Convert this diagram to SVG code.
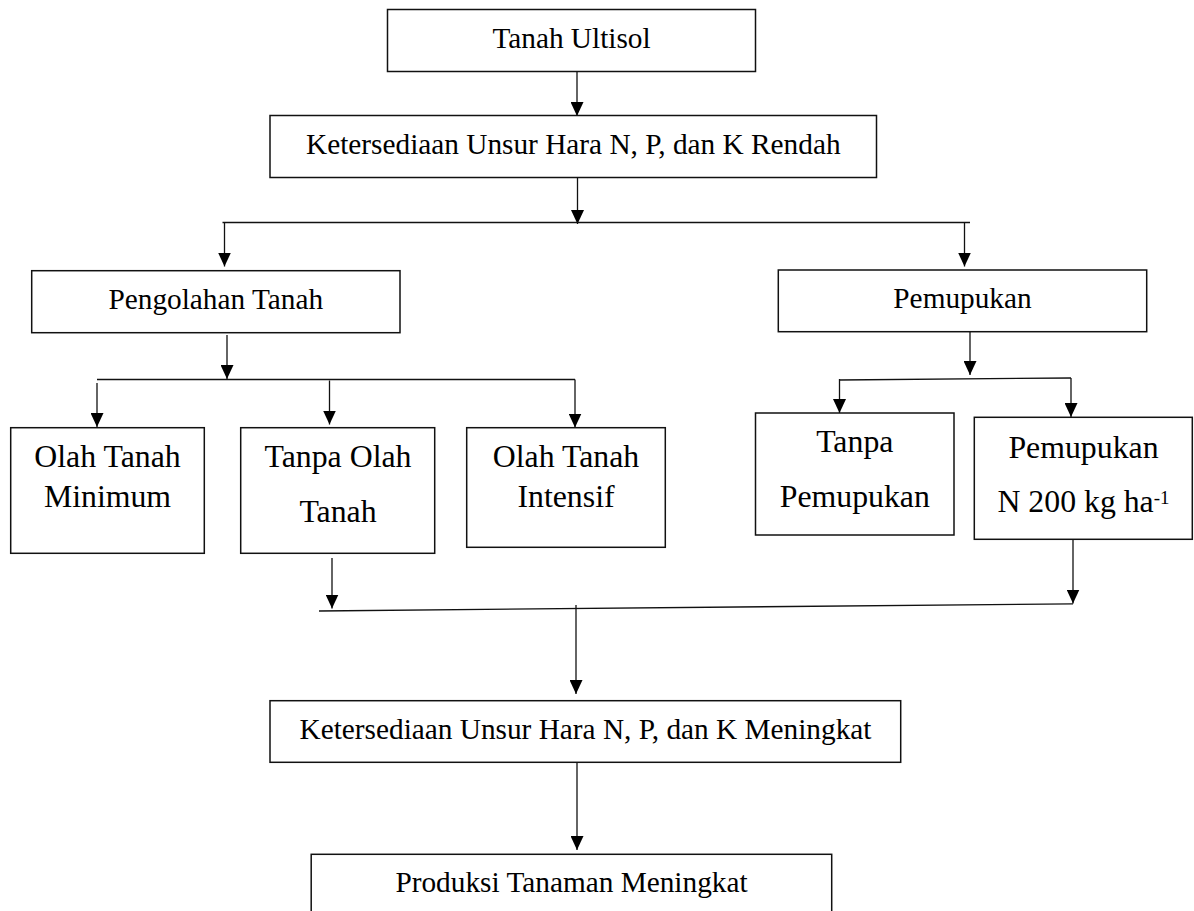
<svg xmlns="http://www.w3.org/2000/svg" width="1194" height="911" viewBox="0 0 1194 911">
<defs>
<style>
.box{fill:#fff;stroke:#111;stroke-width:1.5}
.t{font-family:"Liberation Serif","Times New Roman",serif;font-size:29.3px;fill:#000;text-anchor:middle}
.s{font-family:"Liberation Serif","Times New Roman",serif;font-size:31.8px;fill:#000;text-anchor:middle}
.c{fill:none;stroke:#111;stroke-width:1.3}
.a{marker-end:url(#arr)}
</style>
<marker id="arr" markerUnits="userSpaceOnUse" markerWidth="14" markerHeight="13" viewBox="0 0 14 13" refX="14" refY="6.5" orient="auto">
<path d="M0,0 L14,6.5 L0,13 Z" fill="#000"/>
</marker>
</defs>
<rect width="1194" height="911" fill="#fff"/>
<g id="connectors">
<line class="c a" x1="577" y1="72" x2="577" y2="116"/>
<line class="c a" x1="577.5" y1="177.5" x2="577.5" y2="224"/>
<line class="c" x1="222.5" y1="222.5" x2="970" y2="222.5"/>
<line class="c a" x1="224.5" y1="222.5" x2="224.5" y2="266.5"/>
<line class="c a" x1="964.5" y1="222.5" x2="964.5" y2="266.5"/>
<line class="c a" x1="227" y1="335" x2="227" y2="379"/>
<line class="c" x1="97" y1="379.5" x2="575" y2="379.5"/>
<line class="c a" x1="97" y1="383" x2="97" y2="427"/>
<line class="c a" x1="329.5" y1="380.5" x2="329.5" y2="424.5"/>
<line class="c a" x1="575" y1="379.5" x2="575" y2="427.5"/>
<line class="c a" x1="970" y1="331" x2="970" y2="375"/>
<line class="c" x1="839" y1="380" x2="1071" y2="378"/>
<line class="c a" x1="839.5" y1="379" x2="839.5" y2="413"/>
<line class="c a" x1="1071" y1="378" x2="1071" y2="417"/>
<line class="c a" x1="332" y1="558" x2="332" y2="608.5"/>
<line class="c a" x1="1073" y1="540" x2="1073" y2="603.5"/>
<line class="c" x1="319" y1="611" x2="1073" y2="603.8"/>
<line class="c a" x1="576" y1="605" x2="576" y2="694"/>
<line class="c a" x1="577" y1="761" x2="577" y2="850"/>
</g>
<g id="n1"><rect class="box" x="387.5" y="9.5" width="368" height="62"/><text class="t" x="571.5" y="48.3">Tanah Ultisol</text></g>
<g id="n2"><rect class="box" x="270" y="115.5" width="606.5" height="62"/><text class="t" x="573.3" y="154.3">Ketersediaan Unsur Hara N, P, dan K Rendah</text></g>
<g id="n3"><rect class="box" x="31.7" y="270.7" width="368.3" height="62"/><text class="t" x="215.8" y="309.3">Pengolahan Tanah</text></g>
<g id="n4"><rect class="box" x="778.3" y="270" width="368.4" height="61.7"/><text class="t" x="962.5" y="308">Pemupukan</text></g>
<g id="n5"><rect class="box" x="10.7" y="427.7" width="193.6" height="125.6"/><text class="s" x="107.5" y="467.3">Olah Tanah</text><text class="s" x="107.5" y="506.7">Minimum</text></g>
<g id="n6"><rect class="box" x="240.7" y="427.7" width="194" height="125.6"/><text class="s" x="338" y="467.3">Tanpa Olah</text><text class="s" x="338" y="521.7">Tanah</text></g>
<g id="n7"><rect class="box" x="466.7" y="427.7" width="198.6" height="119.6"/><text class="s" x="566" y="467.3">Olah Tanah</text><text class="s" x="566" y="506.7">Intensif</text></g>
<g id="n8"><rect class="box" x="755.5" y="413" width="198.5" height="122"/><text class="s" x="854.8" y="451.7">Tanpa</text><text class="s" x="854.8" y="506.7">Pemupukan</text></g>
<g id="n9"><rect class="box" x="974.3" y="417.3" width="218" height="122"/><text class="s" x="1083.5" y="458">Pemupukan</text><text class="s" x="1083.5" y="511.7">N 200 kg ha<tspan font-size="19" dy="-8">-1</tspan></text></g>
<g id="n10"><rect class="box" x="270" y="700.7" width="630.7" height="61.6"/><text class="t" x="585.5" y="738.5">Ketersediaan Unsur Hara N, P, dan K Meningkat</text></g>
<g id="n11"><rect class="box" x="311.2" y="854.3" width="520.5" height="70"/><text class="t" x="571.5" y="891.7">Produksi Tanaman Meningkat</text></g>
</svg>
